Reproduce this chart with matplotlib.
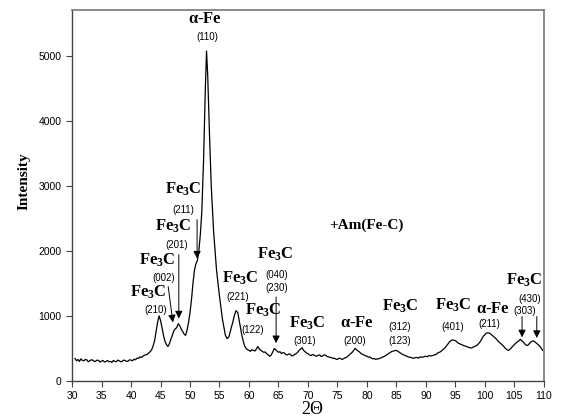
import matplotlib
matplotlib.use('Agg')
import matplotlib.pyplot as plt

plt.rcParams['font.family'] = 'Liberation Sans'
plt.rcParams['mathtext.fontset'] = 'custom'
plt.rcParams['mathtext.rm'] = 'Liberation Serif:bold'
plt.rcParams['mathtext.it'] = 'Liberation Serif:bold'
plt.rcParams['mathtext.bf'] = 'Liberation Serif:bold'

# XRD pattern (2-theta in degrees, intensity in counts)
two_theta = [30.5, 30.75, 31, 31.25, 31.5, 31.75, 32, 32.25, 32.5, 32.75, 33, 33.25, 33.5, 33.75,
             34, 34.25, 34.5, 34.75, 35, 35.25, 35.5, 35.75, 36, 36.25, 36.5, 36.75, 37, 37.25,
             37.5, 37.75, 38, 38.25, 38.5, 38.75, 39, 39.25, 39.5, 39.75, 40, 40.25, 40.5, 40.75,
             41, 41.25, 41.5, 41.75, 42, 42.25, 42.5, 42.75, 43, 43.25, 43.5, 43.75, 44, 44.25,
             44.5, 44.75, 45, 45.25, 45.5, 45.75, 46, 46.25, 46.5, 46.75, 47, 47.25, 47.5, 47.75,
             48, 48.25, 48.5, 48.75, 49, 49.25, 49.5, 49.75, 50, 50.25, 50.5, 50.75, 51, 51.25,
             51.5, 51.75, 52, 52.3, 52.6, 52.8, 53, 53.3, 53.6, 54, 54.5, 55, 55.5, 56, 56.3,
             56.6, 57, 57.25, 57.5, 57.8, 58.1, 58.5, 58.75, 59, 59.25, 59.5, 59.75, 60, 60.25,
             60.5, 60.75, 61, 61.25, 61.5, 61.75, 62, 62.25, 62.5, 62.75, 63, 63.25, 63.5, 63.75,
             64, 64.3, 64.5, 64.75, 65, 65.25, 65.5, 65.75, 66, 66.25, 66.5, 66.75, 67, 67.25,
             67.5, 67.75, 68, 68.25, 68.5, 68.75, 69, 69.25, 69.5, 69.75, 70, 70.25, 70.5, 70.75,
             71, 71.25, 71.5, 71.75, 72, 72.25, 72.5, 72.75, 73, 73.25, 73.5, 73.75, 74, 74.25,
             74.5, 74.75, 75, 75.25, 75.5, 75.75, 76, 76.25, 76.5, 76.75, 77, 77.25, 77.5, 77.75,
             78, 78.25, 78.5, 78.75, 79, 79.25, 79.5, 79.75, 80, 80.25, 80.5, 80.75, 81, 81.25,
             81.5, 81.75, 82, 82.25, 82.5, 82.75, 83, 83.25, 83.5, 83.75, 84, 84.25, 84.5, 84.75,
             85, 85.25, 85.5, 85.75, 86, 86.25, 86.5, 86.75, 87, 87.25, 87.5, 87.75, 88, 88.25,
             88.5, 88.75, 89, 89.25, 89.5, 89.75, 90, 90.25, 90.5, 90.75, 91, 91.25, 91.5, 91.75,
             92, 92.25, 92.5, 92.75, 93, 93.25, 93.5, 93.75, 94, 94.25, 94.5, 94.75, 95, 95.25,
             95.5, 95.75, 96, 96.25, 96.5, 96.75, 97, 97.25, 97.5, 97.75, 98, 98.25, 98.5, 98.75,
             99, 99.25, 99.5, 99.75, 100, 100.25, 100.5, 100.75, 101, 101.25, 101.5, 101.75, 102,
             102.25, 102.5, 102.75, 103, 103.25, 103.5, 103.75, 104, 104.25, 104.5, 104.75, 105,
             105.25, 105.5, 105.75, 106, 106.25, 106.5, 106.75, 107, 107.25, 107.5, 107.75, 108,
             108.25, 108.5, 108.75, 109, 109.25, 109.5, 109.8]
intensity = [345, 310, 330, 300, 340, 315, 310, 330, 325, 295, 310, 325, 320, 300,
             305, 320, 315, 290, 305, 315, 290, 300, 315, 295, 300, 285, 315, 300,
             295, 320, 310, 295, 300, 320, 315, 300, 305, 325, 320, 310, 335, 325,
             350, 345, 370, 360, 380, 395, 400, 410, 430, 450, 480, 540, 620, 760,
             900, 1000, 930, 820, 700, 610, 560, 530, 570, 640, 700, 770, 800, 820,
             880, 850, 800, 760, 720, 700, 780, 900, 1050, 1250, 1500, 1700, 1800, 1850,
             2000, 2250, 2600, 3400, 4500, 5070, 4700, 3800, 3000, 2300, 1700, 1300, 950, 700, 650,
             680, 820, 900, 1000, 1080, 1050, 850, 720, 620, 540, 500, 480, 470, 455,
             480, 470, 460, 490, 530, 490, 470, 455, 440, 445, 420, 400, 380, 395,
             440, 500, 480, 460, 440, 450, 420, 435, 430, 405, 400, 415, 410, 385,
             390, 410, 420, 440, 470, 490, 510, 470, 450, 430, 420, 400, 390, 405,
             400, 385, 380, 395, 400, 375, 385, 400, 395, 375, 370, 360, 360, 345,
             350, 335, 330, 350, 345, 330, 340, 355, 360, 380, 400, 420, 440, 470,
             500, 480, 460, 445, 420, 410, 400, 385, 380, 365, 370, 350, 340, 345,
             330, 340, 340, 350, 360, 370, 380, 395, 410, 425, 440, 455, 460, 465,
             470, 455, 440, 425, 410, 400, 390, 380, 370, 365, 360, 350, 350, 360,
             360, 350, 370, 365, 365, 375, 380, 370, 390, 385, 385, 395, 400, 410,
             430, 440, 450, 470, 490, 510, 540, 570, 600, 620, 630, 625, 620, 600,
             580, 570, 560, 550, 540, 535, 525, 515, 510, 505, 520, 530, 540, 555,
             580, 610, 650, 690, 710, 735, 740, 735, 720, 700, 680, 660, 640,
             610, 590, 570, 550, 525, 500, 480, 470, 485, 510, 535, 560,
             580, 600, 615, 640, 620, 600, 570, 550, 545, 570, 595, 610,
             615, 600, 580, 560, 540, 510, 470]

# peak labels: (text, 2theta, intensity, style)
phase_labels = [
    (r'$\alpha$-Fe', 52.5, 5560, 'b'), ('(110)', 52.9, 5290, 's'),
    (r'Fe$_3$C', 48.8, 2940, 'b'), ('(211)', 48.8, 2630, 's'),
    (r'Fe$_3$C', 47.1, 2370, 'b'), ('(201)', 47.8, 2090, 's'),
    (r'Fe$_3$C', 44.4, 1860, 'b'), ('(002)', 45.6, 1585, 's'),
    (r'Fe$_3$C', 42.9, 1370, 'b'), ('(210)', 44.2, 1090, 's'),
    (r'Fe$_3$C', 58.5, 1585, 'b'), ('(221)', 58.1, 1290, 's'),
    (r'Fe$_3$C', 62.4, 1090, 'b'), ('(122)', 60.7, 785, 's'),
    (r'Fe$_3$C', 64.4, 1940, 'b'), ('(040)', 64.7, 1630, 's'), ('(230)', 64.7, 1430, 's'),
    (r'Fe$_3$C', 69.8, 890, 'b'), ('(301)', 69.5, 615, 's'),
    (r'$\alpha$-Fe', 78.3, 890, 'b'), ('(200)', 78.0, 615, 's'),
    (r'Fe$_3$C', 85.6, 1140, 'b'), ('(312)', 85.6, 830, 's'), ('(123)', 85.6, 615, 's'),
    (r'Fe$_3$C', 94.6, 1170, 'b'), ('(401)', 94.6, 830, 's'),
    (r'$\alpha$-Fe', 101.4, 1110, 'b'), ('(211)', 100.8, 875, 's'),
    ('(303)', 106.8, 1075, 's'),
    (r'Fe$_3$C', 106.6, 1540, 'b'), ('(430)', 107.6, 1260, 's'),
]

# arrows: (x_start, y_start, x_end, y_end)
arrows = [
    (51.2, 2480, 51.2, 1880),
    (48.1, 1940, 48.1, 960),
    (46.3, 1450, 47.1, 900),
    (64.6, 1290, 64.6, 580),
    (106.3, 990, 106.3, 670),
    (108.8, 990, 108.8, 660),
]

fig = plt.figure(figsize=(5.63, 4.2), dpi=100)
ax = fig.add_axes([0.128, 0.093, 0.838, 0.883])

ax.plot(two_theta, intensity, color='black', lw=0.9)

ax.set_xlim(30, 110)
ax.set_ylim(0, 5700)
ax.set_xticks(range(30, 111, 5))
ax.set_yticks(range(0, 5001, 1000))
ax.tick_params(direction='out', length=4, width=0.8, labelsize=7.5, color='#444444')

for side in ['left', 'bottom']:
    ax.spines[side].set_color('#444444')
    ax.spines[side].set_linewidth(1.0)
for side in ['top', 'right']:
    ax.spines[side].set_color('#777777')
    ax.spines[side].set_linewidth(1.2)

for txt, x, y, st in phase_labels:
    if st == 'b':
        ax.text(x, y, txt, fontsize=12, family='Liberation Serif', fontweight='bold',
                ha='center', va='center')
    else:
        ax.text(x, y, txt, fontsize=7, ha='center', va='center')

for x0, y0, x1, y1 in arrows:
    ax.annotate('', xy=(x1, y1), xytext=(x0, y0),
                arrowprops=dict(arrowstyle='-|>', color='black', lw=0.7,
                                mutation_scale=11, shrinkA=0, shrinkB=0))

ax.text(80.0, 2400, '+Am(Fe-C)', fontsize=11, fontweight='bold',
        family='Liberation Serif', ha='center', va='center')

fig.text(24 / 563, 1 - 181 / 420, 'Intensity', rotation=90, fontsize=11, fontweight='bold',
         family='Liberation Serif', ha='center', va='center')
fig.text(312 / 563, 1 - 410 / 420, '2\u0398', fontsize=13, family='Liberation Serif',
         ha='center', va='center')

fig.savefig('out.png', dpi=100)
